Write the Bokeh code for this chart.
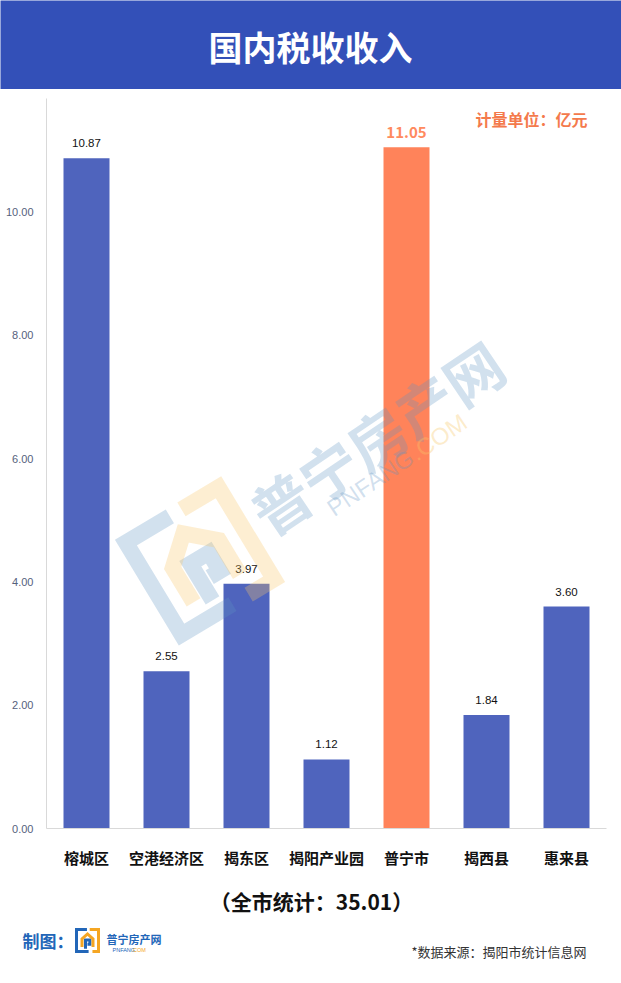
import math
from bokeh.plotting import figure
from bokeh.models import Range1d, FixedTicker, PrintfTickFormatter
from bokeh.layouts import column
from bokeh.core.properties import value
from bokeh.embed import file_html
from bokeh.resources import INLINE

# ---------------- data ----------------
categories = ["榕城区", "空港经济区", "揭东区", "揭阳产业园", "普宁市", "揭西县", "惠来县"]
values = [10.87, 2.55, 3.97, 1.12, 11.05, 1.84, 3.60]
highlight = "普宁市"
y_ticks = [0, 2, 4, 6, 8, 10]
title_text = "国内税收收入"
unit_text = "计量单位：亿元"
total_text = "（全市统计：35.01）"
source_text = "*数据来源：揭阳市统计信息网"
maker_text = "制图："
logo_text = "普宁房产网"
logo_sub1 = "PNFANG"
logo_sub2 = ".COM"

# ---------------- styles ----------------
CJK = value("Noto Sans CJK SC")
NUM = value("Liberation Sans")
HEADER_BG = "#3350b8"
BAR_BLUE = "#4f64bd"
BAR_ORANGE = "#ff835a"
ORANGE_TXT = "#f47a4c"
AXIS_GREY = "#d9d9d9"
WM_BLUE = "#5f94c3"
WM_YELLOW = "#f7c86b"
LOGO_BLUE = "#2266b8"
LOGO_ORANGE = "#f5a623"
W = 621


def icon_paths(cx, cy, s, ang_deg):
    a = math.radians(ang_deg)
    ux = (math.cos(a), -math.sin(a))
    uy = (-math.sin(a), -math.cos(a))

    def m(pts):
        xs = [cx + s * (lx * ux[0] + ly * uy[0]) for lx, ly in pts]
        ys = [cy + s * (lx * ux[1] + ly * uy[1]) for lx, ly in pts]
        return xs, ys

    blue_frame = m([(-0.05, 1), (-1, 1), (-1, -1), (0.1, -1)])
    yel_frame = m([(0.2, 1), (1, 1), (1, -1), (0.45, -1)])
    house = m([(-0.5, -0.6), (-0.5, 0.15), (0.0, 0.6), (0.5, 0.15), (0.5, -0.6)])
    pshape = m([(-0.18, -0.75), (-0.18, 0.05), (0.22, 0.05), (0.22, -0.35), (0.0, -0.35)])
    return [blue_frame, pshape], [yel_frame, house]


# ---------------- header ----------------
hdr = figure(width=W, height=89, x_range=Range1d(0, W), y_range=Range1d(89, 0),
             output_backend="svg", toolbar_location=None, x_axis_type=None, y_axis_type=None,
             min_border=0, background_fill_color=HEADER_BG, border_fill_color=HEADER_BG)
hdr.frame_align = False
hdr.outline_line_color = None
hdr.text(x=[310], y=[46], text=[title_text], text_align="center", text_baseline="middle",
         text_font=CJK, text_font_size="34px", text_font_style="bold", text_color="white")

# ---------------- main chart ----------------
xpos = [i + 0.5 for i in range(len(categories))]
p = figure(width=W, height=781, x_range=Range1d(0, len(categories)), y_range=Range1d(0, 11.839),
           output_backend="svg", toolbar_location=None,
           min_border_left=46, min_border_right=15, min_border_top=9, min_border_bottom=38)
p.frame_align = False
p.outline_line_color = None
p.xgrid.visible = False
p.ygrid.visible = False
p.extra_x_ranges = {"px": Range1d(46, 606)}
p.extra_y_ranges = {"px": Range1d(832, 98)}

colors = [BAR_ORANGE if c == highlight else BAR_BLUE for c in categories]
p.vbar(x=xpos, top=values, width=0.575, color=colors, line_color=None)

norm_x = [x for x, c in zip(xpos, categories) if c != highlight]
norm_v = [v for c, v in zip(categories, values) if c != highlight]
hi_x = [x for x, c in zip(xpos, categories) if c == highlight]
hi_v = [v for c, v in zip(categories, values) if c == highlight]

p.text(x=norm_x, y=norm_v, text=[f"{v:.2f}" for v in norm_v], y_offset=-15,
       text_align="center", text_baseline="middle", text_font=NUM,
       text_font_size="11.5px", text_color="#111111")
p.text(x=hi_x, y=hi_v, text=[f"{v:.2f}" for v in hi_v], y_offset=-15,
       text_align="center", text_baseline="middle", text_font=CJK,
       text_font_size="15px", text_font_style="bold", text_color="#ff8a5e")

# unit label
p.text(x=[587], y=[119], text=[unit_text], x_range_name="px", y_range_name="px",
       text_align="right", text_baseline="middle", text_font=CJK,
       text_font_size="16px", text_font_style="bold", text_color=ORANGE_TXT)

# watermark
wa = 34
ra = math.radians(wa)
p.text(x=[376], y=[438], text=[logo_text], x_range_name="px", y_range_name="px",
       angle=ra, text_align="center", text_baseline="middle", text_font=CJK,
       text_font_size="58px", text_font_style="bold", text_color=WM_BLUE, text_alpha=0.28)
sx, sy = 329, 512
p.text(x=[sx], y=[sy], text=[logo_sub1], x_range_name="px", y_range_name="px",
       angle=ra, text_align="left", text_baseline="middle", text_font=NUM,
       text_font_size="24px", text_color=WM_BLUE, text_alpha=0.28)
p.text(x=[sx + 100 * math.cos(ra)], y=[sy - 100 * math.sin(ra)], text=[logo_sub2],
       x_range_name="px", y_range_name="px",
       angle=ra, text_align="left", text_baseline="middle", text_font=NUM,
       text_font_size="24px", text_color=WM_YELLOW, text_alpha=0.35)
bl, yl = icon_paths(199.5, 563, 54, 31)
p.multi_line(xs=[b[0] for b in bl], ys=[b[1] for b in bl], x_range_name="px", y_range_name="px",
             line_color=WM_BLUE, line_width=16, line_alpha=0.28, line_join="miter")
p.multi_line(xs=[b[0] for b in yl], ys=[b[1] for b in yl], x_range_name="px", y_range_name="px",
             line_color=WM_YELLOW, line_width=16, line_alpha=0.3, line_join="miter")

# axes
p.yaxis.ticker = FixedTicker(ticks=y_ticks)
p.yaxis.formatter = PrintfTickFormatter(format="%.2f")
p.yaxis.axis_line_color = AXIS_GREY
p.yaxis.major_tick_line_color = None
p.yaxis.minor_tick_line_color = None
p.yaxis.major_label_text_font = "Liberation Sans"
p.yaxis.major_label_text_font_size = "11px"
p.yaxis.major_label_text_color = "#56617c"
p.yaxis.major_label_standoff = 7

p.xaxis.ticker = FixedTicker(ticks=xpos)
p.xaxis.major_label_overrides = {x: c for x, c in zip(xpos, categories)}
p.xaxis.axis_line_color = AXIS_GREY
p.xaxis.major_tick_line_color = None
p.xaxis.minor_tick_line_color = None
p.xaxis.major_label_text_font = "Noto Sans CJK SC"
p.xaxis.major_label_text_font_size = "15px"
p.xaxis.major_label_text_font_style = "bold"
p.xaxis.major_label_text_color = "#111111"
p.xaxis.major_label_standoff = 12

# ---------------- footer ----------------
ft = figure(width=W, height=105, x_range=Range1d(0, W), y_range=Range1d(975, 870),
            output_backend="svg", toolbar_location=None, x_axis_type=None, y_axis_type=None,
            min_border=0)
ft.frame_align = False
ft.outline_line_color = None
ft.text(x=[311], y=[900], text=[total_text], text_align="center", text_baseline="middle",
        text_font=CJK, text_font_size="21px", text_font_style="bold", text_color="#111111")
ft.text(x=[22], y=[940], text=[maker_text], text_align="left", text_baseline="middle",
        text_font=CJK, text_font_size="17px", text_font_style="bold", text_color=LOGO_BLUE)
lb, ly = icon_paths(87, 940, 11, 0)
ft.multi_line(xs=[b[0] for b in lb], ys=[b[1] for b in lb], line_color=LOGO_BLUE,
              line_width=3, line_join="miter")
ft.multi_line(xs=[b[0] for b in ly], ys=[b[1] for b in ly], line_color=LOGO_ORANGE,
              line_width=3, line_join="miter")
ft.text(x=[106], y=[938], text=[logo_text], text_align="left", text_baseline="middle",
        text_font=CJK, text_font_size="11px", text_font_style="bold", text_color=LOGO_BLUE)
ft.text(x=[112], y=[949], text=[logo_sub1], text_align="left", text_baseline="middle",
        text_font=NUM, text_font_size="5.5px", text_color=LOGO_BLUE)
ft.text(x=[131], y=[949], text=[logo_sub2], text_align="left", text_baseline="middle",
        text_font=NUM, text_font_size="5.5px", text_color=LOGO_ORANGE)
ft.text(x=[586], y=[951], text=[source_text], text_align="right", text_baseline="middle",
        text_font=CJK, text_font_size="13px", text_color="#333333")

layout = column(hdr, p, ft, spacing=0)
open("out.html", "w").write(file_html(layout, INLINE))
